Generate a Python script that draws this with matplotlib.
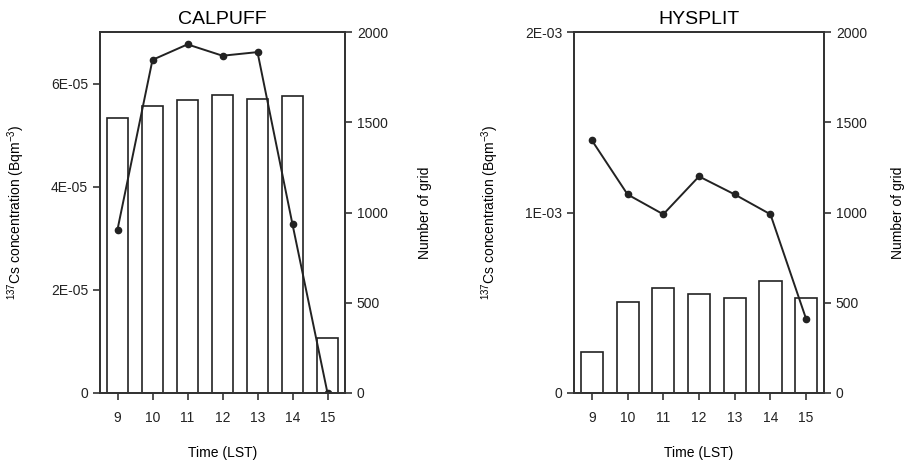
import matplotlib
matplotlib.use('Agg')
import matplotlib.pyplot as plt

plt.rcParams['font.family'] = ['Liberation Sans', 'DejaVu Sans']
plt.rcParams['mathtext.default'] = 'regular'

hours = [9, 10, 11, 12, 13, 14, 15]

# CALPUFF
cal_grid = [1522, 1590, 1622, 1651, 1627, 1647, 305]
cal_conc = [3.17e-05, 6.46e-05, 6.76e-05, 6.54e-05, 6.61e-05, 3.27e-05, 0.0]
cal_yticks = [0, 2e-05, 4e-05, 6e-05]
cal_ylabels = ['0', '2E-05', '4E-05', '6E-05']

# HYSPLIT
hys_grid = [225, 502, 583, 547, 528, 620, 525]
hys_conc = [1.40e-03, 1.10e-03, 0.99e-03, 1.20e-03, 1.10e-03, 0.99e-03, 0.41e-03]
hys_yticks = [0, 1e-03, 2e-03]
hys_ylabels = ['0', '1E-03', '2E-03']

grid_ticks = [0, 500, 1000, 1500, 2000]

fig = plt.figure(figsize=(9.08, 4.66), dpi=100)

panels = [
    ('CALPUFF', cal_grid, cal_conc, cal_yticks, cal_ylabels, 7e-05,
     [100/908, 1-393/466, 245/908, 361/466], -0.298, 1.298),
    ('HYSPLIT', hys_grid, hys_conc, hys_yticks, hys_ylabels, 2e-03,
     [574/908, 1-393/466, 250/908, 361/466], -0.292, 1.268),
]

for title, grid, conc, yt, yl, ymax, pos, lx, rx in panels:
    ax = fig.add_axes(pos)
    ax2 = ax.twinx()
    # bars on the right axis, line on the left axis; bars underneath
    ax2.set_zorder(0)
    ax.set_zorder(1)
    ax.patch.set_visible(False)

    ax2.bar(hours, grid, width=0.62, facecolor='white', edgecolor='#222222',
            linewidth=1.2)
    ax2.set_ylim(0, 2000)
    ax2.set_yticks(grid_ticks)
    ax2.set_ylabel('Number of grid', fontsize=10)
    ax2.yaxis.set_label_coords(rx, 0.5)

    ax.plot(hours, conc, color='#222222', linewidth=1.4, marker='o',
            markersize=4.5)
    ax.set_ylim(0, ymax)
    ax.set_yticks(yt)
    ax.set_yticklabels(yl)
    ax.set_xlim(8.5, 15.5)
    ax.set_xticks(hours)
    ax.set_ylabel(r'$^{137}$Cs concentration (Bqm$^{-3}$)', fontsize=10)
    ax.yaxis.set_label_coords(lx, 0.5)
    ax.set_xlabel('Time (LST)', fontsize=10)
    ax.xaxis.set_label_coords(0.5, -0.147)
    ax.set_title(title, fontsize=14, pad=6)

    for a in (ax, ax2):
        a.tick_params(direction='out', length=5, width=1.1, labelsize=10,
                      colors='#222222')
        for s in a.spines.values():
            s.set_linewidth(1.3)
            s.set_color('#333333')
    ax.tick_params(axis='x', pad=8)

fig.savefig('out.png', dpi=100)
